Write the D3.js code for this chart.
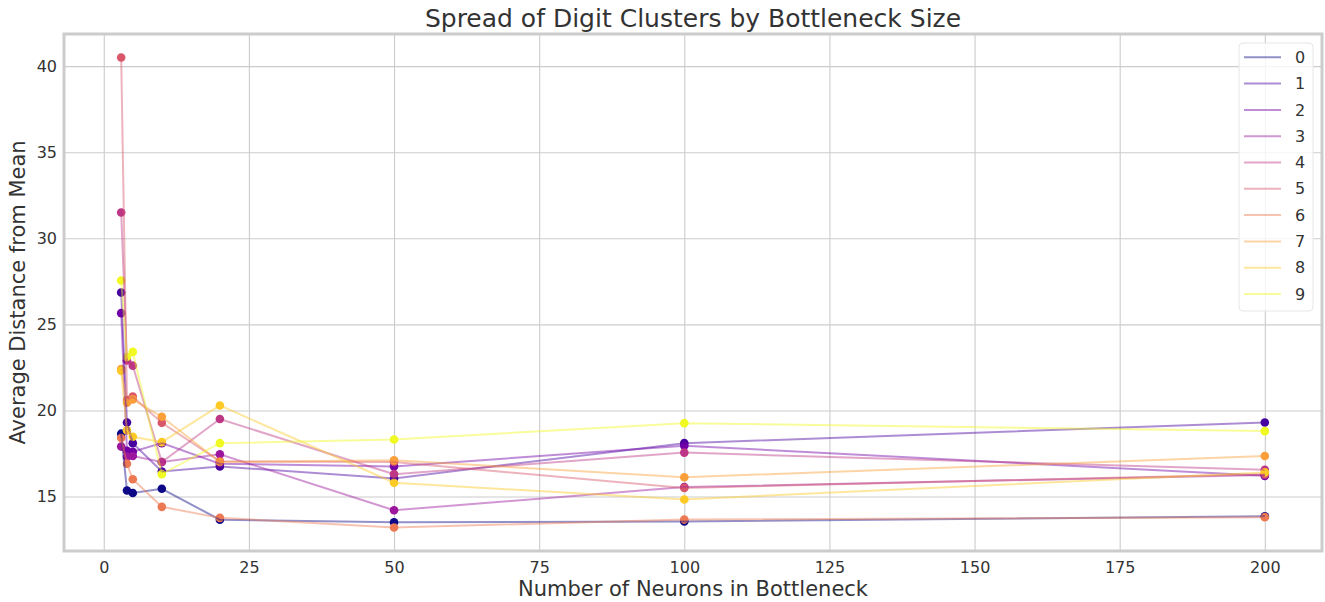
<!DOCTYPE html>
<html>
<head>
<meta charset="utf-8">
<script src="https://d3js.org/d3.v7.min.js"></script>
<style>
  body { margin: 0; background: #fff; }
  text { font-family: "DejaVu Sans", sans-serif; fill: #333333; }
</style>
</head>
<body>
<div id="chart"></div>
<script>
// bottleneck sizes on the x axis
const neurons = [3, 4, 5, 10, 20, 50, 100, 200];
const digits = ["0", "1", "2", "3", "4", "5", "6", "7", "8", "9"];
// average distance from mean, one array per digit
const digit0 = [18.65, 15.35, 15.2, 15.45, 13.65, 13.5, 13.55, 13.85];
const digit1 = [26.85, 19.3, 18.1, 16.45, 16.75, 16.05, 18.1, 19.3];
const digit2 = [25.65, 17.65, 17.6, 18.1, 16.9, 16.75, 17.95, 16.2];
const digit3 = [17.9, 17.3, 17.35, 17.0, 17.45, 14.2, 15.55, 16.25];
const digit4 = [31.5, 22.9, 22.6, 17.0, 19.5, 16.3, 17.55, 16.55];
const digit5 = [40.5, 20.6, 20.8, 19.28, 17.05, 17.0, 15.5, 16.3];
const digit6 = [18.4, 16.9, 16.0, 14.4, 13.76, 13.2, 13.66, 13.8];
const digit7 = [22.4, 20.45, 20.64, 19.63, 17.0, 17.1, 16.12, 17.35];
const digit8 = [22.3, 18.84, 18.47, 18.16, 20.29, 15.8, 14.83, 16.4];
const digit9 = [27.55, 23.1, 23.4, 16.3, 18.1, 18.31, 19.26, 18.8];
const series = [digit0, digit1, digit2, digit3, digit4, digit5, digit6, digit7, digit8, digit9];
const xTicks = [0, 25, 50, 75, 100, 125, 150, 175, 200];
const yTicks = [15, 20, 25, 30, 35, 40];

const W = 1325, H = 602;
const margin = { top: 34, right: 3, bottom: 51, left: 64 };
const width = W - margin.left - margin.right;
const height = H - margin.top - margin.bottom;

const svg = d3.select("#chart").append("svg")
    .attr("width", W).attr("height", H);
const plot = svg.append("g")
    .attr("transform", `translate(${margin.left},${margin.top})`);

// matplotlib style 5% padding
const xMin = 3, xMax = 200;
const allVals = series.flat();
const yLo = d3.min(allVals), yHi = d3.max(allVals);
const x = d3.scaleLinear()
    .domain([xMin - 0.05 * (xMax - xMin), xMax + 0.05 * (xMax - xMin)])
    .range([0, width]);
const y = d3.scaleLinear()
    .domain([yLo - 0.05 * (yHi - yLo), yHi + 0.05 * (yHi - yLo)])
    .range([height, 0]);
const color = i => d3.interpolatePlasma(i / 9);

// grid
plot.append("g")
    .call(d3.axisBottom(x).tickValues(xTicks).tickSize(height).tickFormat(""))
    .call(g => g.select(".domain").remove())
    .selectAll("line").attr("stroke", "#cccccc").attr("stroke-width", 1.1);
plot.append("g")
    .call(d3.axisLeft(y).tickValues(yTicks).tickSize(-width).tickFormat(""))
    .call(g => g.select(".domain").remove())
    .selectAll("line").attr("stroke", "#cccccc").attr("stroke-width", 1.1);

// tick labels
const xAxis = plot.append("g")
    .attr("transform", `translate(0,${height})`)
    .call(d3.axisBottom(x).tickValues(xTicks).tickSize(0).tickPadding(11));
xAxis.select(".domain").remove();
xAxis.selectAll("text").style("font-size", "16px")
    .style("font-family", "DejaVu Sans").style("fill", "#333333");
const yAxis = plot.append("g")
    .call(d3.axisLeft(y).tickValues(yTicks).tickSize(0).tickPadding(7));
yAxis.select(".domain").remove();
yAxis.selectAll("text").style("font-size", "16px")
    .style("font-family", "DejaVu Sans").style("fill", "#333333");

// dots are under the lines (matplotlib zorder)
series.forEach((vals, i) => {
    plot.append("g").selectAll("circle")
        .data(vals)
        .enter()
        .append("circle")
        .attr("cx", (d, j) => x(neurons[j]))
        .attr("cy", d => y(d))
        .attr("r", 4.3)
        .attr("fill", color(i));
});

const line = d3.line()
    .x((d, j) => x(neurons[j]))
    .y(d => y(d));
series.forEach((vals, i) => {
    plot.append("path")
        .datum(vals)
        .attr("d", line)
        .attr("fill", "none")
        .attr("stroke", color(i))
        .attr("stroke-width", 2)
        .attr("stroke-opacity", 0.45);
});

// frame
plot.append("rect")
    .attr("x", 0).attr("y", 0)
    .attr("width", width).attr("height", height)
    .attr("fill", "none")
    .attr("stroke", "#cccccc")
    .attr("stroke-width", 3);

// legend
const lg = svg.append("g").attr("transform", "translate(1239,43)");
lg.append("rect")
    .attr("width", 74).attr("height", 268)
    .attr("rx", 4)
    .attr("fill", "#fff").attr("fill-opacity", 0.8)
    .attr("stroke", "#e6e6e6");
digits.forEach((d, i) => {
    const ly = 14.3 + i * 26.3;
    lg.append("line")
        .attr("x1", 5).attr("x2", 42)
        .attr("y1", ly).attr("y2", ly)
        .attr("stroke", color(i))
        .attr("stroke-width", 2)
        .attr("stroke-opacity", 0.45);
    lg.append("text")
        .attr("x", 56).attr("y", ly)
        .attr("dy", "0.35em")
        .style("font-size", "16px")
        .text(d);
});

// labels
svg.append("text")
    .attr("x", margin.left + width / 2)
    .attr("y", 27)
    .attr("text-anchor", "middle")
    .style("font-size", "25px")
    .text("Spread of Digit Clusters by Bottleneck Size");
svg.append("text")
    .attr("x", margin.left + width / 2)
    .attr("y", 596)
    .attr("text-anchor", "middle")
    .style("font-size", "21px")
    .text("Number of Neurons in Bottleneck");
svg.append("text")
    .attr("transform", `translate(25,${margin.top + height / 2}) rotate(-90)`)
    .attr("text-anchor", "middle")
    .style("font-size", "21px")
    .text("Average Distance from Mean");
</script>
</body>
</html>
